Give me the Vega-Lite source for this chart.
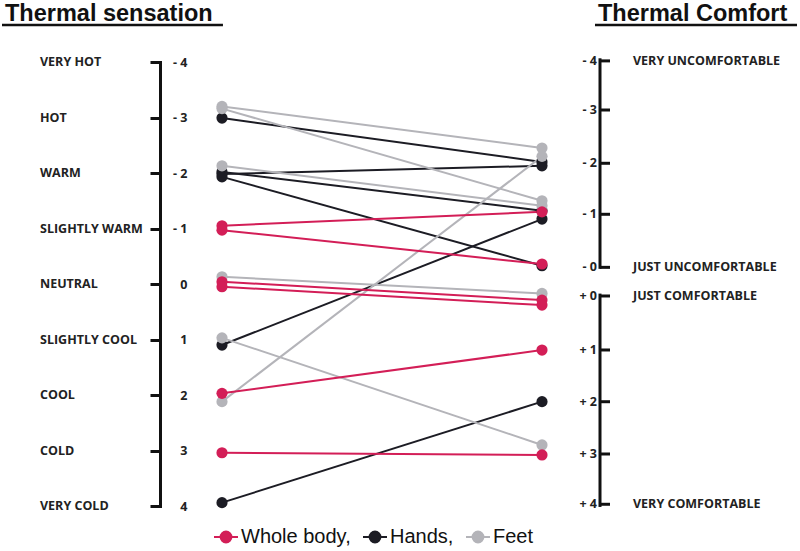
{
  "$schema": "https://vega.github.io/schema/vega-lite/v6.json",
  "width": 800,
  "height": 444,
  "autosize": {"type": "none"},
  "padding": {"left": 0, "top": 62, "right": 0, "bottom": 45},
  "background": "white",
  "config": {"view": {"stroke": null}, "font": "Open Sans"},
  "datasets": {
    "lines": [
      {"group": "Hands", "sensation": -2.99, "comfort": -2.2},
      {"group": "Hands", "sensation": -1.98, "comfort": -2.13},
      {"group": "Hands", "sensation": -2.02, "comfort": -1.32},
      {"group": "Hands", "sensation": -1.93, "comfort": -0.33},
      {"group": "Hands", "sensation": 1.1, "comfort": -1.17},
      {"group": "Hands", "sensation": 3.94, "comfort": 2.12},
      {"group": "Feet", "sensation": -3.2, "comfort": -2.45},
      {"group": "Feet", "sensation": -3.16, "comfort": -1.5},
      {"group": "Feet", "sensation": -2.13, "comfort": -1.41},
      {"group": "Feet", "sensation": 2.12, "comfort": -2.3},
      {"group": "Feet", "sensation": -0.13, "comfort": 0.17},
      {"group": "Feet", "sensation": 0.97, "comfort": 2.9},
      {"group": "Whole body", "sensation": -1.05, "comfort": -1.3},
      {"group": "Whole body", "sensation": -0.97, "comfort": -0.36},
      {"group": "Whole body", "sensation": -0.04, "comfort": 0.29},
      {"group": "Whole body", "sensation": 0.05, "comfort": 0.38},
      {"group": "Whole body", "sensation": 1.97, "comfort": 1.19},
      {"group": "Whole body", "sensation": 3.04, "comfort": 3.08}
    ],
    "leftCats": [
      {"value": -4, "label": "VERY HOT"},
      {"value": -3, "label": "HOT"},
      {"value": -2, "label": "WARM"},
      {"value": -1, "label": "SLIGHTLY WARM"},
      {"value": 0, "label": "NEUTRAL"},
      {"value": 1, "label": "SLIGHTLY COOL"},
      {"value": 2, "label": "COOL"},
      {"value": 3, "label": "COLD"},
      {"value": 4, "label": "VERY COLD"}
    ],
    "rightTicks": [
      {"label": "- 4", "pos": -4.02, "category": "VERY UNCOMFORTABLE"},
      {"label": "- 3", "pos": -3.135, "category": ""},
      {"label": "- 2", "pos": -2.175, "category": ""},
      {"label": "- 1", "pos": -1.256, "category": ""},
      {"label": "- 0", "pos": -0.3, "category": "JUST UNCOMFORTABLE"},
      {"label": "+ 0", "pos": 0.216, "category": "JUST COMFORTABLE"},
      {"label": "+ 1", "pos": 1.189, "category": ""},
      {"label": "+ 2", "pos": 2.121, "category": ""},
      {"label": "+ 3", "pos": 3.063, "category": ""},
      {"label": "+ 4", "pos": 3.969, "category": "VERY COMFORTABLE"}
    ],
    "headers": [
      {"title": "Thermal sensation", "start": -0.6875, "end": 0.003},
      {"title": "Thermal Comfort", "start": 1.1656, "end": 1.7969}
    ]
  },
  "layer": [
    {
      "data": {"name": "lines"},
      "mark": {"type": "rule", "strokeWidth": 2},
      "encoding": {
        "x": {"datum": 0, "type": "quantitative", "scale": {"domain": [-0.69375, 1.80625], "nice": false, "zero": false}, "axis": null},
        "x2": {"datum": 1},
        "y": {
          "field": "sensation", "type": "quantitative",
          "scale": {"domain": [-4, 4], "reverse": true, "nice": false, "zero": false},
          "axis": {
            "orient": "left", "offset": -160, "values": [-4, -3, -2, -1, 0, 1, 2, 3, 4],
            "title": null, "grid": false,
            "domainColor": "#111", "domainWidth": 3, "domainCap": "square",
            "tickColor": "#111", "tickWidth": 3, "tickSize": 10,
            "labelPadding": -37, "labelAlign": "right",
            "labelFont": "Open Sans", "labelFontWeight": "bold", "labelFontSize": 12.5, "labelColor": "#222",
            "labelExpr": "datum.value < 0 ? '- ' + abs(datum.value) : '' + datum.value",
            "labelBound": false, "labelOverlap": false, "labelFlush": false
          }
        },
        "y2": {"field": "comfort"},
        "color": {
          "field": "group", "type": "nominal",
          "scale": {"domain": ["Whole body", "Hands", "Feet"], "range": ["#d31e57", "#1c1c24", "#b4b4b9"]},
          "legend": {
            "orient": "none", "legendX": 213, "legendY": 462, "direction": "horizontal", "title": null,
            "padding": 0,
            "labelFont": "Liberation Sans", "labelFontSize": 20, "labelColor": "#111",
            "symbolType": "M-1,0L1,0M0.45,0A0.45,0.45,0,1,1,-0.45,0A0.45,0.45,0,1,1,0.45,0Z",
            "symbolSize": 576, "symbolStrokeWidth": 2, "symbolOpacity": 1,
            "labelOffset": 2, "columnPadding": 8,
            "labelExpr": "datum.label == 'Feet' ? 'Feet' : datum.label + ','",
            "encode": {"symbols": {"update": {"fill": {"scale": "color", "field": "value"}, "stroke": {"scale": "color", "field": "value"}}}}
          }
        }
      }
    },
    {
      "data": {"name": "lines"},
      "mark": {"type": "point", "filled": true, "size": 125, "opacity": 1},
      "encoding": {
        "x": {"datum": 0, "type": "quantitative"},
        "y": {"field": "sensation", "type": "quantitative"},
        "color": {"field": "group", "type": "nominal"}
      }
    },
    {
      "data": {"name": "lines"},
      "mark": {"type": "point", "filled": true, "size": 125, "opacity": 1},
      "encoding": {
        "x": {"datum": 1, "type": "quantitative"},
        "y": {"field": "comfort", "type": "quantitative"},
        "color": {"field": "group", "type": "nominal"}
      }
    },
    {
      "data": {"name": "leftCats"},
      "mark": {"type": "text", "align": "left", "baseline": "middle", "font": "Open Sans", "fontWeight": "bold", "fontSize": 12.5, "color": "#222"},
      "encoding": {
        "x": {"datum": -0.56875, "type": "quantitative"},
        "y": {"field": "value", "type": "quantitative"},
        "text": {"field": "label"}
      }
    },
    {
      "data": {"name": "rightTicks"},
      "mark": {"type": "rule", "strokeWidth": 3, "color": "#111"},
      "encoding": {
        "x": {"datum": 1.18125, "type": "quantitative"},
        "x2": {"datum": 1.2125},
        "y": {"field": "pos", "type": "quantitative"}
      }
    },
    {
      "data": {"values": [{"from": -4.04, "to": -0.3}, {"from": 0.2, "to": 3.99}]},
      "mark": {"type": "rule", "strokeWidth": 3, "color": "#111", "strokeCap": "square"},
      "encoding": {
        "x": {"datum": 1.18125, "type": "quantitative"},
        "y": {"field": "from", "type": "quantitative"},
        "y2": {"field": "to"}
      }
    },
    {
      "data": {"name": "rightTicks"},
      "mark": {"type": "text", "align": "right", "baseline": "middle", "font": "Open Sans", "fontWeight": "bold", "fontSize": 12.5, "color": "#222"},
      "encoding": {
        "x": {"datum": 1.171875, "type": "quantitative"},
        "y": {"field": "pos", "type": "quantitative"},
        "text": {"field": "label"}
      }
    },
    {
      "data": {"name": "rightTicks"},
      "mark": {"type": "text", "align": "left", "baseline": "middle", "font": "Open Sans", "fontWeight": "bold", "fontSize": 12.5, "color": "#222"},
      "encoding": {
        "x": {"datum": 1.284375, "type": "quantitative"},
        "y": {"field": "pos", "type": "quantitative"},
        "text": {"field": "category"}
      }
    },
    {
      "data": {"name": "headers"},
      "mark": {"type": "text", "align": "left", "baseline": "alphabetic", "font": "Liberation Sans", "fontWeight": "bold", "fontSize": 23.5, "color": "#111", "dx": 3},
      "encoding": {
        "x": {"field": "start", "type": "quantitative"},
        "y": {"datum": -4.73, "type": "quantitative"},
        "text": {"field": "title"}
      }
    },
    {
      "data": {"name": "headers"},
      "mark": {"type": "rule", "strokeWidth": 2.5, "color": "#111"},
      "encoding": {
        "x": {"field": "start", "type": "quantitative"},
        "x2": {"field": "end"},
        "y": {"datum": -4.665, "type": "quantitative"}
      }
    }
  ]
}
